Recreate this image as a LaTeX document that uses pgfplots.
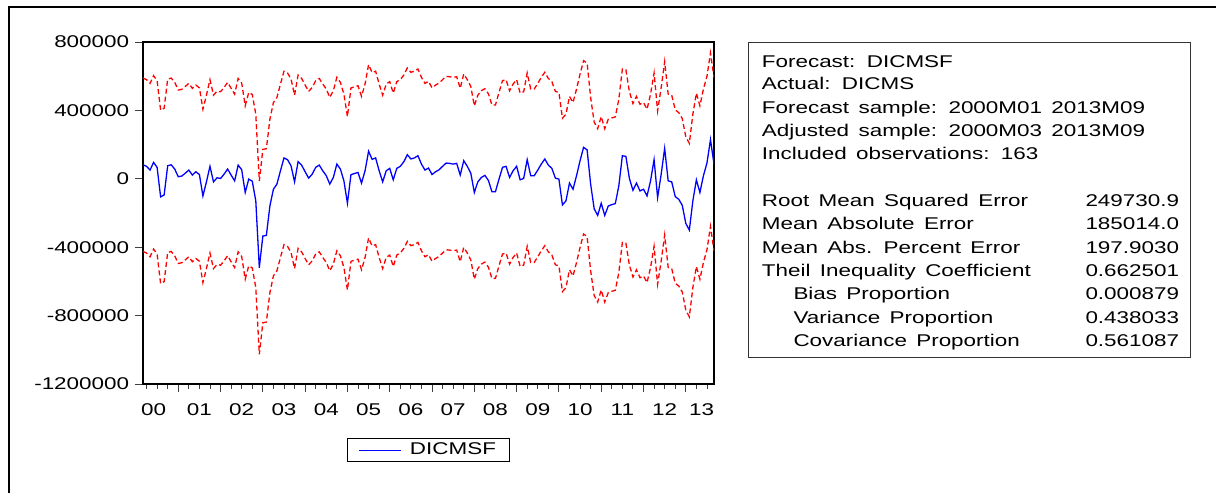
\documentclass[border=0pt]{standalone}
\usepackage{fontspec}
\setmainfont{Liberation Sans}[FakeStretch=1.32, WordSpace=1.5]
\usepackage{pgfplots}
\pgfplotsset{compat=1.18}
\usepackage{pgfplotstable}

\pgfplotstableread{
t f u l
0 82000 589000 -425000
1 73000 580000 -434000
2 51000 558000 -456000
3 96000 603000 -411000
4 67000 574000 -440000
5 -106000 401000 -613000
6 -94000 413000 -601000
7 76000 583000 -431000
8 82000 589000 -425000
9 57000 564000 -450000
10 12000 519000 -495000
11 16000 523000 -491000
12 33000 540000 -474000
13 51000 558000 -456000
14 22000 529000 -485000
15 41000 548000 -466000
16 25000 532000 -482000
17 -100000 407000 -607000
18 -18000 489000 -525000
19 73000 580000 -434000
20 -18000 489000 -525000
21 6000 513000 -501000
22 2000 509000 -505000
23 27000 534000 -480000
24 57000 564000 -450000
25 22000 529000 -485000
26 -12000 495000 -519000
27 80000 587000 -427000
28 53000 560000 -454000
29 -80000 427000 -587000
30 -2000 505000 -509000
31 -14000 493000 -521000
32 -129000 378000 -636000
33 -520000 -13000 -1027000
34 -335000 172000 -842000
35 -331000 176000 -838000
36 -159000 348000 -666000
37 -61000 446000 -568000
38 -31000 476000 -538000
39 47000 554000 -460000
40 122000 629000 -385000
41 112000 619000 -395000
42 76000 583000 -431000
43 -18000 489000 -525000
44 100000 607000 -407000
45 80000 587000 -427000
46 41000 548000 -466000
47 4000 511000 -503000
48 27000 534000 -480000
49 67000 574000 -440000
50 80000 587000 -427000
51 47000 554000 -460000
52 18000 525000 -489000
53 -31000 476000 -538000
54 8000 515000 -499000
55 86000 593000 -421000
56 57000 564000 -450000
57 -12000 495000 -519000
58 -143000 364000 -650000
59 24000 531000 -483000
60 31000 538000 -476000
61 37000 544000 -470000
62 -25000 482000 -532000
63 47000 554000 -460000
64 161000 668000 -346000
65 114000 621000 -393000
66 122000 629000 -385000
67 47000 554000 -460000
68 -18000 489000 -525000
69 47000 554000 -460000
70 61000 568000 -446000
71 -6000 501000 -513000
72 61000 568000 -446000
73 73000 580000 -434000
74 100000 607000 -407000
75 141000 648000 -366000
76 116000 623000 -391000
77 122000 629000 -385000
78 135000 642000 -372000
79 86000 593000 -421000
80 51000 558000 -456000
81 63000 570000 -444000
82 25000 532000 -482000
83 41000 548000 -466000
84 53000 560000 -454000
85 73000 580000 -434000
86 92000 599000 -415000
87 90000 597000 -417000
88 86000 593000 -421000
89 90000 597000 -417000
90 22000 529000 -485000
91 106000 613000 -401000
92 73000 580000 -434000
93 33000 540000 -474000
94 -80000 427000 -587000
95 -18000 489000 -525000
96 8000 515000 -499000
97 20000 527000 -487000
98 -10000 497000 -517000
99 -76000 431000 -583000
100 -75000 432000 -582000
101 -2000 505000 -509000
102 67000 574000 -440000
103 73000 580000 -434000
104 8000 515000 -499000
105 47000 554000 -460000
106 73000 580000 -434000
107 -6000 501000 -513000
108 2000 509000 -505000
109 112000 619000 -395000
110 18000 525000 -489000
111 18000 525000 -489000
112 51000 558000 -456000
113 86000 593000 -421000
114 116000 623000 -391000
115 80000 587000 -427000
116 61000 568000 -446000
117 4000 511000 -503000
118 -2000 505000 -509000
119 -153000 354000 -660000
120 -129000 378000 -636000
121 -25000 482000 -532000
122 -61000 446000 -568000
123 18000 525000 -489000
124 106000 613000 -401000
125 184000 691000 -323000
126 169000 676000 -338000
127 -31000 476000 -538000
128 -175000 332000 -682000
129 -214000 293000 -721000
130 -143000 364000 -650000
131 -214000 293000 -721000
132 -159000 348000 -666000
133 -151000 356000 -658000
134 -145000 362000 -652000
135 -41000 466000 -548000
136 135000 642000 -372000
137 131000 638000 -376000
138 2000 509000 -505000
139 -67000 440000 -574000
140 -25000 482000 -532000
141 -71000 436000 -578000
142 -61000 446000 -568000
143 -100000 407000 -607000
144 -12000 495000 -519000
145 112000 619000 -395000
146 -110000 397000 -617000
147 25000 532000 -482000
148 178000 685000 -329000
149 -12000 495000 -519000
150 -18000 489000 -525000
151 -104000 403000 -611000
152 -120000 387000 -627000
153 -155000 352000 -662000
154 -261000 246000 -768000
155 -300000 207000 -807000
156 -129000 378000 -636000
157 -6000 501000 -513000
158 -80000 427000 -587000
159 18000 525000 -489000
160 92000 599000 -415000
161 229000 736000 -278000
162 86000 593000 -421000
}\fcdata

\begin{document}
\fontsize{17}{23}\selectfont
\begin{tikzpicture}[x=1pt,y=1pt]
\useasboundingbox (0,0) rectangle (1216,493);
\draw[line width=2pt] (8.5,0) -- (8.5,486) -- (1216,486);
\begin{axis}[
  at={(143pt,109pt)}, anchor=south west,
  width=571pt, height=342pt, scale only axis,
  xmin=0, xmax=162, ymin=-1200000, ymax=800000,
  axis line style={line width=1.6pt},
  tick align=outside, xtick pos=bottom, ytick pos=left,
  major tick length=8pt, minor tick length=5pt,
  tick style={black!75, line width=0.9pt},
  ytick={-1200000,-800000,-400000,0,400000,800000},
  scaled y ticks=false,
  /pgf/number format/assume math mode=true,
  yticklabel style={/pgf/number format/fixed, /pgf/number format/1000 sep={}},
  xtick={10,22,34,46,58,70,82,94,106,118,130,142,154},
  xticklabels={},
  minor xtick={1,4,7,13,16,19,25,28,31,37,40,43,49,52,55,61,64,67,73,76,79,85,88,91,97,100,103,109,112,115,121,124,127,133,136,139,145,148,151,157,160},
  extra x ticks={3,16,28,40,52,64,76,88,100,112,124,136,148,158.5},
  extra x tick labels={00,01,02,03,04,05,06,07,08,09,10,11,12,13},
  extra x tick style={tick style={draw=none}, xticklabel style={yshift=-6pt}},
  legend style={at={(0.5,-0.193)}, anchor=center, draw=black, line width=1pt,
    inner xsep=11pt, inner ysep=2pt},
  legend image code/.code={\draw[blue, line width=1pt] (0pt,0pt) -- (42pt,0pt);},
]
\addplot[red, line width=1.3pt, dash pattern=on 5pt off 3pt, forget plot] table[x=t, y=u] {\fcdata};
\addplot[red, line width=1.3pt, dash pattern=on 5pt off 3pt, forget plot] table[x=t, y=l] {\fcdata};
\addplot[blue, line width=1.3pt] table[x=t, y=f] {\fcdata};
\addlegendentry{\hspace{6pt}DICMSF}
\end{axis}
\draw[line width=1pt, black!80] (748,450.3) rectangle (1190.7,135);
\node[anchor=base west, inner sep=0] at (761.7,425.7) {Forecast: DICMSF};
\node[anchor=base west, inner sep=0] at (761.7,403.0) {Actual: DICMS};
\node[anchor=base west, inner sep=0] at (761.7,379.7) {Forecast sample: 2000M01 2013M09};
\node[anchor=base west, inner sep=0] at (761.7,356.3) {Adjusted sample: 2000M03 2013M09};
\node[anchor=base west, inner sep=0] at (761.7,333.0) {Included observations: 163};
\node[anchor=base west, inner sep=0] at (761.7,286.3) {Root Mean Squared Error};
\node[anchor=base west, inner sep=0] at (761.7,263.0) {Mean Absolute Error};
\node[anchor=base west, inner sep=0] at (761.7,239.7) {Mean Abs. Percent Error};
\node[anchor=base west, inner sep=0] at (761.7,216.3) {Theil Inequality Coefficient};
\node[anchor=base west, inner sep=0] at (793.3,193.0) {Bias Proportion};
\node[anchor=base west, inner sep=0] at (793.3,169.7) {Variance Proportion};
\node[anchor=base west, inner sep=0] at (793.3,146.3) {Covariance Proportion};
\node[anchor=base east, inner sep=0] at (1179.3,286.3) {249730.9};
\node[anchor=base east, inner sep=0] at (1179.3,263.0) {185014.0};
\node[anchor=base east, inner sep=0] at (1179.3,239.7) {197.9030};
\node[anchor=base east, inner sep=0] at (1179.3,216.3) {0.662501};
\node[anchor=base east, inner sep=0] at (1179.3,193.0) {0.000879};
\node[anchor=base east, inner sep=0] at (1179.3,169.7) {0.438033};
\node[anchor=base east, inner sep=0] at (1179.3,146.3) {0.561087};
\end{tikzpicture}
\end{document}
